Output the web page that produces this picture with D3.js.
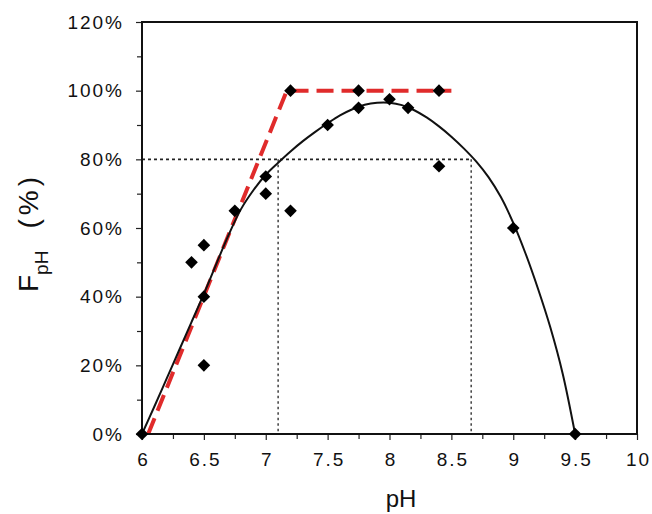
<!DOCTYPE html>
<html><head><meta charset="utf-8">
<script src="https://cdn.jsdelivr.net/npm/d3@7"></script>
<style>
html,body{margin:0;padding:0;background:#fff;}
svg{display:block;font-family:"Liberation Sans",Arial,Helvetica,sans-serif;}
</style></head>
<body>
<svg id="chart" width="652" height="514"></svg>
<script>
// measured data points (pH, F %)
const pointPH = [6.0, 6.4, 6.5, 6.5, 6.5, 6.75, 7.0, 7.0, 7.2, 7.2, 7.5, 7.75, 7.75, 8.0, 8.15, 8.4, 8.4, 9.0, 9.5];
const pointF  = [0,   50,  55,  40,  20,  65,   75,  70,  65,  100, 90,  95,   100,  97.5, 95,  100, 78,  60,  0];
// fitted curve
const curvePH = [6.0, 6.1, 6.2, 6.3, 6.4, 6.5, 6.6, 6.7, 6.8, 6.9, 7.0, 7.1, 7.2, 7.3, 7.4, 7.5, 7.6, 7.7, 7.8, 7.9,
                 8.0, 8.1, 8.2, 8.3, 8.4, 8.5, 8.6, 8.7, 8.8, 8.9, 9.0, 9.1, 9.2, 9.3, 9.4, 9.5];
const curveF  = [0,   8,   16.2, 24.4, 32.6, 40.8, 49.5, 58, 65.5, 71,  75.5, 79,  82.3, 85.3, 88, 90.5, 92.8, 94.6, 95.9, 96.5,
                 96.5, 95.8, 94.3, 92.2, 89.6, 86.6, 83.2, 79.4, 74.8, 69, 61.5, 52.5, 42.3, 31, 17.5, 0];
// red two-phase linear model
const modelPH = [6.05, 7.17, 8.5];
const modelF  = [0, 100, 100];
// 80% guide lines
const guideF = 80;
const guidePH = [7.1, 8.66];
// ticks
const xTicks = [6, 6.5, 7, 7.5, 8, 8.5, 9, 9.5, 10];
const xMinor = [6.25, 6.75, 7.25, 7.75, 8.25, 8.75, 9.25, 9.75];
const yTicks = [0, 20, 40, 60, 80, 100, 120];
const yMinor = [10, 30, 50, 70, 90, 110];

const svg = d3.select("#chart");
const L = 142, R = 637, T = 22, B = 434;
const x = d3.scaleLinear().domain([6, 10]).range([L, R]);
const y = d3.scaleLinear().domain([0, 120]).range([B, T]);

// axes
const xAxis = svg.append("g").attr("transform", `translate(0,${B})`)
  .call(d3.axisBottom(x).tickValues(xTicks).tickSize(6).tickPadding(13).tickFormat(d => d3.format("")(d)));
const xAxisMinor = svg.append("g").attr("transform", `translate(0,${B})`)
  .call(d3.axisBottom(x).tickValues(xMinor).tickSize(5).tickFormat(""));
const yAxis = svg.append("g").attr("transform", `translate(${L},0)`)
  .call(d3.axisLeft(y).tickValues(yTicks).tickSize(6).tickPadding(14).tickFormat(d => d + "%"));
const yAxisMinor = svg.append("g").attr("transform", `translate(${L},0)`)
  .call(d3.axisLeft(y).tickValues(yMinor).tickSize(5).tickFormat(""));
[xAxis, xAxisMinor, yAxis, yAxisMinor].forEach(g => {
  g.select(".domain").remove();
  g.selectAll(".tick line").attr("stroke", "#222").attr("stroke-width", 1.2);
  g.selectAll("text").attr("font-size", 19).attr("fill", "#111")
    .attr("font-family", "'Liberation Sans',Arial,sans-serif").style("letter-spacing", "2px");
});
xAxis.selectAll("text").attr("dx", "1px");
yAxis.selectAll("text").attr("dx", "2px");

// guide dotted lines
svg.append("line").attr("x1", x(6)).attr("x2", x(guidePH[1])).attr("y1", y(guideF)).attr("y2", y(guideF))
  .attr("stroke", "#222").attr("stroke-width", 1.6).attr("stroke-dasharray", "3,3");
guidePH.forEach(p => {
  svg.append("line").attr("x1", x(p)).attr("x2", x(p)).attr("y1", y(guideF)).attr("y2", y(0))
    .attr("stroke", "#333").attr("stroke-width", 1.4).attr("stroke-dasharray", "2.5,3");
});

// red dashed model
const modelData = modelPH.map((p, i) => [p, modelF[i]]);
svg.append("path").datum(modelData)
  .attr("d", d3.line().x(d => x(d[0])).y(d => y(d[1])))
  .attr("fill", "none").attr("stroke", "#e02b2b").attr("stroke-width", 4)
  .attr("stroke-dasharray", "17,8").attr("stroke-linejoin", "miter");

// fitted curve
const curveData = curvePH.map((p, i) => [p, curveF[i]]);
svg.append("path").datum(curveData)
  .attr("d", d3.line().x(d => x(d[0])).y(d => y(d[1])).curve(d3.curveCatmullRom.alpha(0.5)))
  .attr("fill", "none").attr("stroke", "#111").attr("stroke-width", 2);

// frame
svg.append("rect").attr("x", L).attr("y", T).attr("width", R - L).attr("height", B - T)
  .attr("fill", "none").attr("stroke", "#111").attr("stroke-width", 2);

// points
const pts = pointPH.map((p, i) => [p, pointF[i]]);
svg.append("g").selectAll("path").data(pts).join("path")
  .attr("transform", d => `translate(${x(d[0])},${y(d[1])}) rotate(45)`)
  .attr("d", d3.symbol().type(d3.symbolSquare).size(80))
  .attr("fill", "#000");

// axis titles
svg.append("text").attr("x", 401).attr("y", 507).attr("text-anchor", "middle")
  .attr("font-size", 24).attr("fill", "#111").text("pH");

const yt = svg.append("text").attr("transform", "translate(38,292) rotate(-90)")
  .attr("text-anchor", "start").attr("fill", "#111");
yt.append("tspan").attr("font-size", 28).text("F");
yt.append("tspan").attr("font-size", 19).attr("dy", 10).text("pH");
yt.append("tspan").attr("font-size", 28).attr("dy", -10).attr("dx", 22).style("letter-spacing", "4px").text("(%)");
</script>
</body></html>
